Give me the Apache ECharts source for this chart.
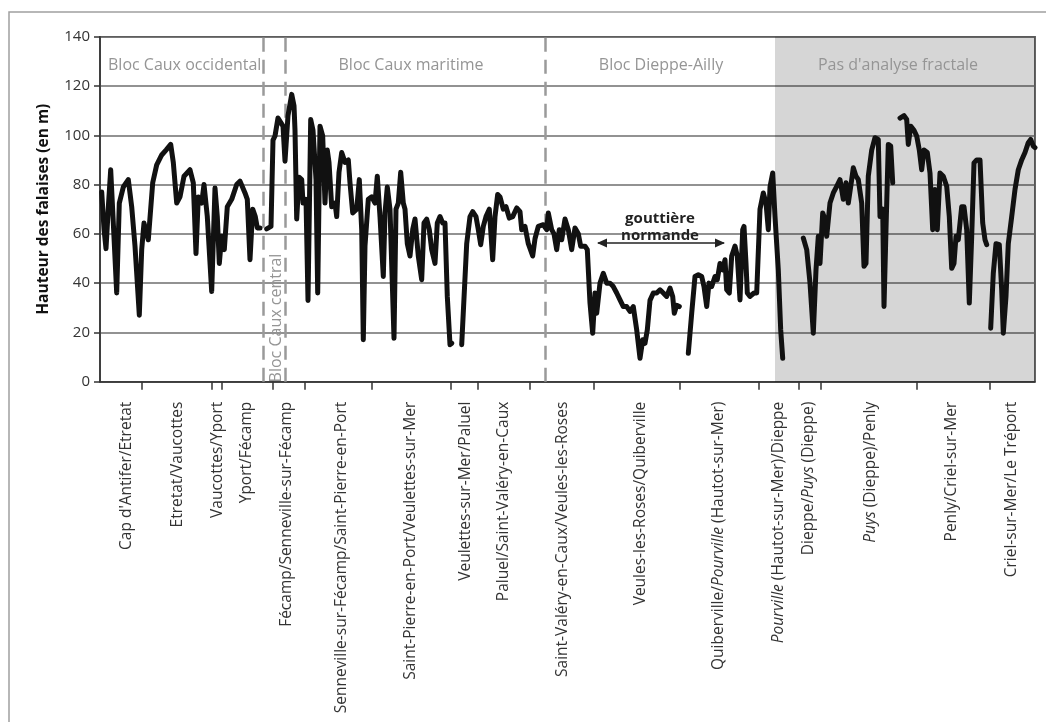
<!DOCTYPE html>
<html>
<head>
<meta charset="utf-8">
<script src="https://cdn.jsdelivr.net/npm/echarts@6/dist/echarts.min.js"></script>
<style>
html,body{margin:0;padding:0;background:#fff;}
#c{width:1046px;height:722px;}
</style>
</head>
<body>
<div id="c"></div>
<script>
// Distance along the coast (arbitrary units, 0 = left edge of the plot) and cliff height (m)
const segA = [[1.7,77],[4,62],[6,54],[8.5,72],[10.7,86],[13,67],[16.7,36],[19.3,72.5],[23.3,79],[28.3,82],[31.7,71],[35,55],[39.3,27],[41.7,53.6],[44,64.4],[48.3,57.6],[52.7,80.7],[56.7,88],[61.7,92],[66,94],[70.7,96.3],[73.3,89],[76.7,72.5],[80,75],[84,83.4],[90,86],[93.3,80.7],[96,52],[98.3,75],[101.7,72.5],[104,80],[107.3,67],[111.7,36.6],[115,78.6],[117.3,67],[119.3,48],[121.7,59],[124.3,53.6],[127.3,71],[131.7,74],[136.7,80],[140,81.4],[145,76.6],[147.3,74],[150,49.5],[152.7,70],[155.3,67],[157.3,62.4],[160,62.4]];
const segB = [[166.7,62],[171,63],[173,98],[175,99.7],[178,107],[180,107],[183,103.7],[185,89.5],[188,108],[191.7,116.6],[194,112],[195,102],[196.7,66],[199,83],[201.7,82],[203,72.5],[206,74],[208,33],[210.7,106.4],[213,102],[216,82],[217.7,36],[220,103.7],[222.7,99.7],[225,72.5],[227.3,94],[229,89],[231.7,71],[235,72.5],[236.7,67],[239,85],[241.7,93],[245,89],[248.3,90],[250,80.7],[252.7,68.5],[256.7,70],[259.3,82],[261.7,61.7],[263.3,17],[265,55],[268.3,74],[271.7,75],[275,72.5],[277.3,83.4],[280,67],[283.3,42.7],[285,68.5],[287.3,79],[290,70],[294,17.6],[296,70],[298.3,72.5],[300.7,85],[303.3,72.5],[305,70],[307.3,56],[310,51],[312.7,61.7],[315,66],[318.3,51],[321.7,41.4],[324,64.4],[326.7,66],[329.3,61.7],[331.7,53.6],[335,48],[337.3,64.4],[340,67],[342.7,64.4],[345,64.4],[347.3,34.6],[350,15],[351.7,15.6]];
const segC = [[361.7,15],[366.7,56],[370,67],[372.7,69],[376,67],[378.3,61.7],[380.7,55.6],[383.3,63],[386,67],[389.3,70],[392.7,49.5],[395,67],[397.7,76],[400,75],[403.3,70],[406,71],[409.3,66.4],[412.7,67],[416.7,70.5],[420,69],[421.7,61.7],[425,63],[428.3,56],[432.7,51],[435,58],[438.3,63],[443.3,63.7],[446.7,61.7],[448.3,68.5],[451.7,61.7],[454,60],[456.7,53.6],[459.3,61.7],[461.7,57.6],[465,66],[468.3,61.7],[471.7,53.6],[475,62.4],[478.3,60],[480.7,55],[485,55],[487.3,53.6],[490,31.9],[492.7,19.7],[495,36],[496.7,27.8],[500,40],[503.3,44],[506.7,40],[510,40],[513.3,38.6],[516.7,36],[520,33.2],[523.3,30.5],[526.7,30.5],[530,28.5],[533.3,30.5],[536.7,21],[540,9.5],[542.7,17],[545,15.6],[547.3,21],[550,33],[553.3,36],[556.7,36],[560,37.3],[563.3,36],[566.7,34.6],[570,38],[572.7,34.6],[574.3,27.8],[576.7,31],[579.3,30.5]];
const segD = [[588.3,11.5],[591.7,27.8],[595,42.7],[598.3,43.4],[601.7,42.7],[604,38.6],[606.7,30.5],[609,40],[611.7,38.6],[615,42.7],[617.3,41.4],[620,48],[622.7,45.4],[625,49.5],[626.7,37.3],[629.3,36],[631.7,51],[635,55],[637.3,51],[640,33.2],[642.7,61.7],[644,63],[646,48],[647.3,36],[650,34.6],[654,36],[656.7,36],[660,70],[663.3,76.6],[666,72.5],[668.3,61.7],[670,79],[672.7,84.7],[675,67],[678.3,45.4],[680.7,21],[682.7,9.5]];
const segE = [[703.3,58.3],[706.7,53.6],[710,40],[713.3,19.7],[716,45.4],[718.3,59],[720,48],[722.7,68.5],[724,67],[726.7,59],[730,72.5],[733.3,76.6],[736.7,79.3],[740,82],[743.3,74],[746,80.7],[748.3,72.5],[751.7,82],[753.3,86.8],[756,83.4],[758.3,82],[761.7,72.5],[764,46.8],[766,48],[768.3,83.4],[771.7,94],[775,99],[778.3,98.3],[780,67],[782.7,70],[784,30.5],[786,61.7],[788.3,96.3],[790.7,95.6],[792.7,80.7]];
const segF = [[800,107],[804,108],[806.7,106.4],[808.3,96.3],[810.7,103.7],[814,102],[816.7,99.7],[819.3,94],[821.7,86],[824,94],[827.3,93],[830,84.7],[832.7,61.7],[835,78],[837.3,61.7],[840,84.7],[843.3,83.4],[846.7,79.3],[849.3,67],[851.7,46],[854,48],[856,59],[858.3,57.6],[861.7,71],[864,71],[866.7,61.7],[869.3,31.9],[871.7,59],[874,88.8],[876.7,90],[880,90],[882.7,64.4],[885,57.6],[886.7,55.6]];
const segG = [[890.7,21.7],[893.3,44],[896,56],[899.3,55.6],[901.7,37.3],[903.3,19.7],[906,34.6],[908.3,56],[911.7,67],[915,78],[918.3,86],[921.7,90],[925,93],[928.3,97],[930.7,98.3],[933.3,95.6],[935,95]];
const segments = [segA, segB, segC, segD, segE, segF, segG];

// Boundaries between coastal sections (tick marks) and section labels
const boundaries = [41.7,111.7,121.7,172.7,204.3,271.7,351,377.7,430,493.3,579.3,659,698.3,721,816.7,890];
const sectionPos = [27,77.5,117.6,147,187,242,311,366,404,463,540.7,619,679,709,770.7,852,912];
const sectionNames = ["Cap d'Antifer/Etretat","Etretat/Vaucottes","Vaucottes/Yport","Yport/Fécamp","Fécamp/Senneville-sur-Fécamp","Senneville-sur-Fécamp/Saint-Pierre-en-Port","Saint-Pierre-en-Port/Veulettes-sur-Mer","Veulettes-sur-Mer/Paluel","Paluel/Saint-Valéry-en-Caux","Saint-Valéry-en-Caux/Veules-les-Roses","Veules-les-Roses/Quiberville","Quiberville/Pourville (Hautot-sur-Mer)","Pourville (Hautot-sur-Mer)/Dieppe","Dieppe/Puys (Dieppe)","Puys (Dieppe)/Penly","Penly/Criel-sur-Mer","Criel-sur-Mer/Le Tréport"];
const italicWords = ["Pourville","Puys"];

// Block limits (dashed lines) and unanalysed zone
const blockLimits = [163.3,185,445.7];
const noAnalysis = [675,935];

const yTicks = [0,20,40,60,80,100,120,140];

const data = [];
segments.forEach((s,i)=>{ s.forEach(p=>data.push(p)); if(i<segments.length-1){ data.push([s[s.length-1][0]+2,'-']); } });

function fmtName(n){
  const parts=[]; let rest=n;
  while(rest.length){
    let best=-1,bw=null;
    italicWords.forEach(w=>{const k=rest.indexOf(w); if(k>=0&&(best<0||k<best)){best=k;bw=w;}});
    if(best<0){parts.push('{n|'+rest+'}');break;}
    if(best>0) parts.push('{n|'+rest.slice(0,best)+'}');
    parts.push('{i|'+bw+'}');
    rest=rest.slice(best+bw.length);
  }
  return parts.join('');
}

const chart = echarts.init(document.getElementById('c'),null,{renderer:'canvas'});
const FONT = '"Open Sans", "Liberation Sans", sans-serif';
const LFS = 15.5;
chart.setOption({
  animation:false,
  backgroundColor:'#fff',
  textStyle:{fontFamily:FONT},
  grid:{left:100,right:11,top:36.7,bottom:340.3,show:true,borderColor:'#333',borderWidth:1.5,containLabel:false},
  xAxis:{
    type:'value',min:0,max:935,
    axisLine:{show:true,onZero:false,lineStyle:{color:'#333',width:1.5}},
    axisTick:{show:true,customValues:boundaries,length:8,lineStyle:{color:'#333',width:1.5}},
    splitLine:{show:false},
    axisLabel:{
      customValues:sectionPos,rotate:90,margin:20,fontSize:LFS,color:'#333',fontFamily:FONT,
      formatter:function(v){let k=0,d=1e9;sectionPos.forEach((p,i)=>{if(Math.abs(p-v)<d){d=Math.abs(p-v);k=i;}});return fmtName(sectionNames[k]);},
      rich:{n:{fontSize:LFS,color:'#333',fontFamily:FONT},i:{fontSize:LFS,color:'#333',fontStyle:'italic',fontFamily:FONT}}
    }
  },
  yAxis:{
    type:'value',min:0,max:140,interval:20,
    name:'Hauteur des falaises (en m)',nameLocation:'middle',nameGap:48,nameRotate:90,
    nameTextStyle:{fontSize:15.5,fontWeight:'bold',color:'#111',fontFamily:FONT},
    axisLine:{show:true,lineStyle:{color:'#333',width:1.5}},
    axisTick:{show:true,length:6,lineStyle:{color:'#333',width:1.5}},
    axisLabel:{fontSize:15,color:'#333',margin:10,fontFamily:FONT,customValues:yTicks},
    splitLine:{show:true,lineStyle:{color:'#6e6e6e',width:1.5}}
  },
  series:[{
    type:'line',data:data,showSymbol:false,symbol:'none',connectNulls:false,
    lineStyle:{color:'#111',width:5,join:'round',cap:'round'},
    z:5,
    markArea:{silent:true,itemStyle:{color:'rgba(0,0,0,0.16)'},data:[[{xAxis:noAnalysis[0]},{xAxis:noAnalysis[1]}]]},
    markLine:{silent:true,symbol:['none','none'],label:{show:false},
      lineStyle:{type:[14,8],color:'#9a9a9a',width:2.5},
      data:blockLimits.map(x=>({xAxis:x}))}
  }],
  graphic:[
    {type:'rect',shape:{x:9,y:12,width:1100,height:800},style:{fill:'none',stroke:'#a0a0a0',lineWidth:1.5},z:-10,silent:true},
    {type:'text',x:108,y:65,style:{text:'Bloc Caux occidental',fontSize:16,fill:'#959595',fontFamily:FONT,align:'left',verticalAlign:'middle'},z:10},
    {type:'text',x:411,y:65,style:{text:'Bloc Caux maritime',fontSize:16,fill:'#959595',fontFamily:FONT,align:'center',verticalAlign:'middle'},z:10},
    {type:'text',x:661,y:65,style:{text:'Bloc Dieppe-Ailly',fontSize:16,fill:'#959595',fontFamily:FONT,align:'center',verticalAlign:'middle'},z:10},
    {type:'text',x:898,y:65,style:{text:"Pas d'analyse fractale",fontSize:16,fill:'#959595',fontFamily:FONT,align:'center',verticalAlign:'middle'},z:10},
    {type:'text',x:276,y:318,rotation:Math.PI/2,style:{text:'Bloc Caux central',fontSize:16,fill:'#959595',fontFamily:FONT,align:'center',verticalAlign:'middle'},z:10},
    {type:'text',x:660,y:219,style:{text:'gouttière',fontSize:15,fontWeight:'bold',fill:'#222',fontFamily:FONT,align:'center',verticalAlign:'middle'},z:10},
    {type:'text',x:660,y:236,style:{text:'normande',fontSize:15,fontWeight:'bold',fill:'#222',fontFamily:FONT,align:'center',verticalAlign:'middle'},z:10},
    {type:'line',shape:{x1:598,y1:243,x2:724,y2:243},style:{stroke:'#222',lineWidth:1.5},z:10},
    {type:'polygon',shape:{points:[[597,243],[607,238.5],[607,247.5]]},style:{fill:'#222'},z:10},
    {type:'polygon',shape:{points:[[725,243],[715,238.5],[715,247.5]]},style:{fill:'#222'},z:10}
  ]
});
</script>
</body>
</html>
